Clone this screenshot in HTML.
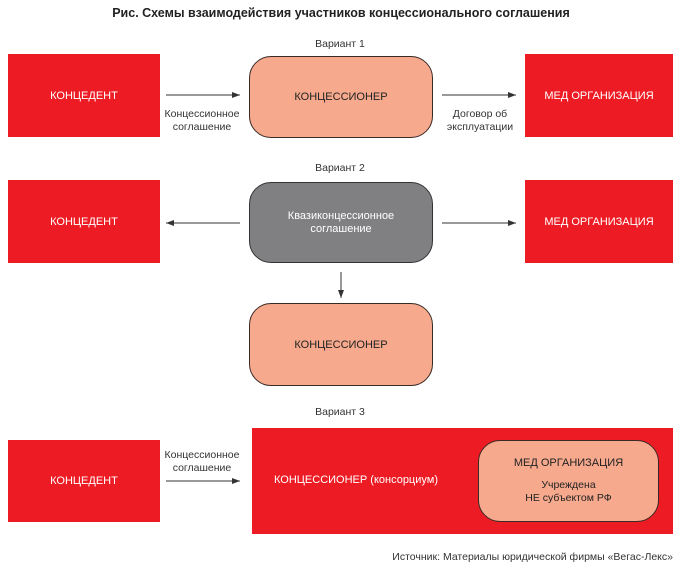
<!DOCTYPE html>
<html><head><meta charset="utf-8"><style>
body{margin:0;width:682px;height:567px;background:#fff;position:relative;font-family:"Liberation Sans","DejaVu Sans",sans-serif;overflow:hidden}
.a{position:absolute;box-sizing:border-box;display:flex;align-items:center;justify-content:center;text-align:center;font-size:11px;color:#fff}
.r{background:#ed1c24}
.s{background:#f6a98d;border:1px solid #3a2a25;border-radius:22px;color:#222}
.g{background:#808083;border:1px solid #333;border-radius:22px;color:#fff}
.t{position:absolute;font-size:10.5px;color:#333;text-align:center;line-height:13px}
</style></head><body>
<div class="t" style="left:0;width:682px;top:7px;font-weight:bold;font-size:12.5px;color:#222">Рис. Схемы взаимодействия участников концессионального соглашения</div>
<div class="t" style="left:300px;width:80px;top:38px">Вариант 1</div>
<div class="a r" style="left:8px;top:54px;width:152px;height:83px">КОНЦЕДЕНТ</div>
<div class="a s" style="left:249px;top:56px;width:184px;height:82px">КОНЦЕССИОНЕР</div>
<div class="a r" style="left:525px;top:54px;width:148px;height:83px">МЕД ОРГАНИЗАЦИЯ</div>
<div class="t" style="left:158px;width:88px;top:108px">Концессионное<br>соглашение</div>
<div class="t" style="left:436px;width:88px;top:108px">Договор об<br>эксплуатации</div>
<div class="t" style="left:300px;width:80px;top:162px">Вариант 2</div>
<div class="a r" style="left:8px;top:180px;width:152px;height:83px">КОНЦЕДЕНТ</div>
<div class="a g" style="left:249px;top:182px;width:184px;height:81px;line-height:13px">Квазиконцессионное<br>соглашение</div>
<div class="a r" style="left:525px;top:180px;width:148px;height:83px">МЕД ОРГАНИЗАЦИЯ</div>
<div class="a s" style="left:249px;top:303px;width:184px;height:83px">КОНЦЕССИОНЕР</div>
<div class="t" style="left:300px;width:80px;top:406px">Вариант 3</div>
<div class="a r" style="left:8px;top:440px;width:152px;height:82px">КОНЦЕДЕНТ</div>
<div class="a r" style="left:252px;top:428px;width:421px;height:106px"></div>
<div class="t" style="left:274px;top:474px;color:#fff;font-size:11px;text-align:left">КОНЦЕССИОНЕР (консорциум)</div>
<div class="a s" style="left:478px;top:440px;width:181px;height:82px;flex-direction:column;line-height:13px"><div>МЕД ОРГАНИЗАЦИЯ</div><div style="height:9px"></div><div style="font-size:10.5px">Учреждена<br>НЕ субъектом РФ</div></div>
<div class="t" style="left:158px;width:88px;top:449px">Концессионное<br>соглашение</div>
<div class="t" style="left:300px;width:373px;top:551px;text-align:right">Источник: Материалы юридической фирмы «Вегас-Лекс»</div>
<svg width="682" height="567" style="position:absolute;left:0;top:0">
<defs><marker id="m" markerWidth="8" markerHeight="6" refX="8" refY="3" orient="auto"><path d="M0,0L8,3L0,6z" fill="#333"/></marker></defs>
<g stroke="#333" stroke-width="1" marker-end="url(#m)">
<line x1="166" y1="95" x2="240" y2="95"/>
<line x1="442" y1="95" x2="516" y2="95"/>
<line x1="240" y1="223" x2="166" y2="223"/>
<line x1="442" y1="223" x2="516" y2="223"/>
<line x1="341" y1="272" x2="341" y2="298"/>
<line x1="166" y1="481" x2="240" y2="481"/>
</g></svg>
</body></html>
